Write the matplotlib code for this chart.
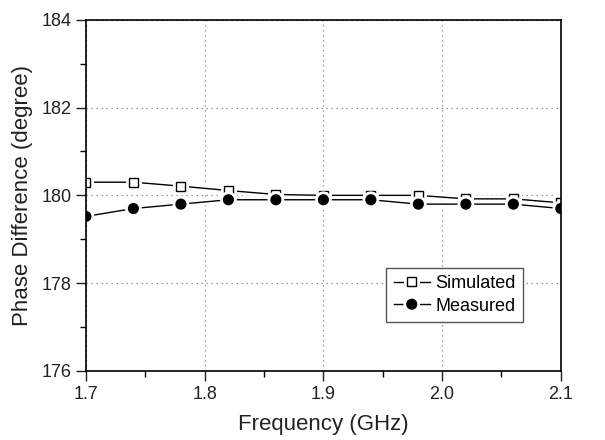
import matplotlib
matplotlib.use("Agg")
import matplotlib.pyplot as plt
import matplotlib.patheffects as pe
from matplotlib.ticker import MultipleLocator

plt.rcParams['font.family'] = ['Liberation Sans', 'DejaVu Sans']

freq = [1.70, 1.74, 1.78, 1.82, 1.86, 1.90, 1.94, 1.98, 2.02, 2.06, 2.10]
simulated = [180.3, 180.3, 180.21, 180.11, 180.02, 180.0, 180.0, 180.0, 179.92, 179.92, 179.83]
measured = [179.52, 179.7, 179.8, 179.9, 179.9, 179.9, 179.9, 179.8, 179.8, 179.8, 179.7]

fig = plt.figure(figsize=(6.05, 4.4), dpi=100)
ax = fig.add_axes([0.142, 0.157, 0.785, 0.798])

gap = [pe.Stroke(linewidth=5, foreground='white'), pe.Normal()]
ax.plot(freq, simulated, color='black', lw=1.0, marker='s', ms=6.5,
        mfc='white', mec='black', mew=1.0, label='Simulated', path_effects=gap)
ax.plot(freq, measured, color='black', lw=1.0, marker='o', ms=7,
        mfc='black', mec='black', label='Measured', path_effects=gap)

ax.set_xlim(1.7, 2.1)
ax.set_ylim(176, 184)
ax.xaxis.set_minor_locator(MultipleLocator(0.05))
ax.yaxis.set_major_locator(MultipleLocator(2))
ax.yaxis.set_minor_locator(MultipleLocator(1))
ax.set_xticks([1.7, 1.8, 1.9, 2.0, 2.1])
ax.set_xticklabels(['1.7', '1.8', '1.9', '2.0', '2.1'])

ax.grid(True, which='major', linestyle=(0, (1, 3)), color='gray', lw=0.9)
ax.tick_params(which='major', direction='out', length=7, width=1, labelsize=13, colors='#222222')
ax.tick_params(which='minor', direction='out', length=4, width=1)
for s in ax.spines.values():
    s.set_linewidth(1.2)

ax.set_xlabel('Frequency (GHz)', fontsize=16, color='#222222', labelpad=8)
ax.set_ylabel('Phase Difference (degree)', fontsize=16, color='#222222', labelpad=6)

leg = ax.legend(loc='lower right', bbox_to_anchor=(0.92, 0.14), borderaxespad=0,
                fontsize=13, numpoints=1, fancybox=False, edgecolor='#555555',
                framealpha=1, handlelength=2.0, handletextpad=0.3,
                borderpad=0.4, labelspacing=0.3)
leg.get_frame().set_linewidth(1.0)

fig.savefig('out.png', dpi=100)
